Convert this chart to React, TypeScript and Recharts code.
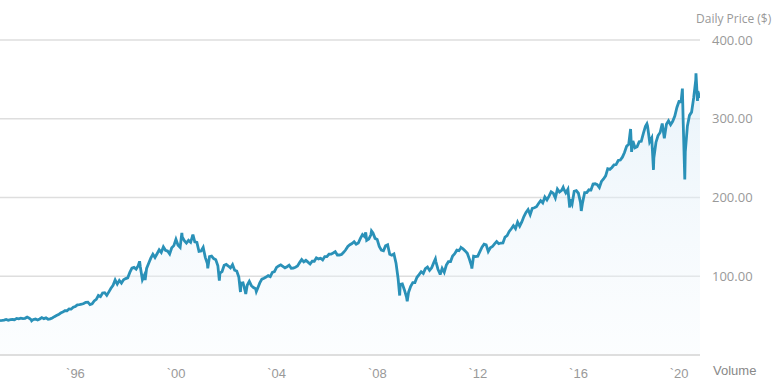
import { Area, AreaChart, CartesianGrid, XAxis, YAxis } from "recharts";

// month-end closes, Jan 1993 .. Oct 2020 (approx, $)
const START_YEAR = 1993;
const monthlyClose = [
  43.9, 44.3, 45.2, 44.1, 45.0, 45.1, 44.8, 46.5, 45.9, 46.8, 46.2, 46.6,
  48.2, 46.7, 44.6, 45.1, 45.7, 44.4, 45.8, 47.6, 46.2, 47.2, 45.4, 45.9,
  47.1, 48.7, 50.1, 51.4, 53.3, 54.5, 56.2, 56.2, 58.4, 58.2, 60.6, 61.6,
  63.6, 64.0, 64.5, 65.4, 66.9, 67.1, 64.0, 65.1, 68.7, 70.6, 75.7, 74.1,
  78.6, 79.1, 75.7, 80.2, 84.8, 88.5, 95.4, 90.0, 94.7, 91.4, 95.5, 97.0,
  98.0, 104.9, 110.2, 111.2, 109.1, 113.3, 112.0, 95.7, 101.7, 109.9, 116.4, 122.9,
  127.9, 123.8, 128.6, 133.5, 130.2, 137.3, 132.9, 132.0, 128.3, 136.2, 138.9, 146.9,
  139.4, 136.6, 149.9, 145.2, 142.1, 145.5, 143.1, 151.7, 143.6, 142.9, 131.5, 132.0,
  136.6, 124.0, 116.0, 124.9, 125.6, 122.4, 121.1, 113.4, 104.1, 106.0, 114.0, 115.0,
  113.0, 110.6, 114.7, 107.7, 106.7, 98.9, 91.1, 91.6, 81.5, 88.6, 93.6, 88.0,
  85.6, 84.1, 84.8, 91.6, 96.3, 97.4, 99.0, 100.8, 99.6, 105.0, 105.8, 111.2,
  113.1, 114.5, 112.6, 110.7, 112.1, 114.0, 110.2, 110.4, 111.5, 113.0, 117.3, 121.2,
  118.2, 120.3, 118.0, 115.6, 119.2, 119.1, 123.4, 122.0, 122.9, 120.7, 125.0, 125.0,
  128.0, 128.0, 129.5, 131.1, 127.0, 127.0, 127.7, 130.4, 133.6, 137.9, 140.1, 141.6,
  143.8, 140.7, 142.1, 148.1, 153.0, 150.3, 145.5, 147.3, 152.7, 154.9, 148.1, 146.8,
  137.9, 133.1, 132.3, 138.6, 140.0, 128.0, 126.7, 128.3, 116.6, 96.8, 89.6, 90.3,
  82.6, 73.5, 79.8, 87.3, 92.0, 92.0, 98.7, 102.1, 105.7, 103.6, 109.6, 111.6,
  107.4, 110.7, 117.3, 118.7, 108.9, 103.1, 110.1, 105.0, 114.1, 118.5, 118.6, 125.8,
  128.6, 133.1, 132.5, 136.2, 134.7, 132.2, 129.2, 121.8, 113.2, 125.5, 124.9, 125.5,
  131.3, 137.0, 140.8, 139.9, 131.5, 136.1, 137.7, 141.2, 144.0, 141.3, 142.2, 142.4,
  149.7, 151.6, 156.9, 160.3, 164.1, 160.4, 168.7, 163.6, 168.9, 175.8, 181.0, 184.7,
  178.2, 186.3, 187.0, 188.3, 192.4, 196.0, 193.1, 200.7, 197.0, 201.7, 207.2, 205.5,
  199.5, 210.7, 207.0, 209.0, 211.0, 205.9, 210.5, 197.7, 191.6, 207.9, 208.7, 205.4,
  193.7, 193.5, 206.3, 206.3, 209.8, 209.5, 217.1, 217.4, 216.3, 212.6, 220.4, 223.5,
  227.5, 236.5, 235.7, 238.1, 241.4, 241.8, 247.0, 247.5, 251.2, 257.2, 265.0, 267.5,
  281.9, 271.7, 263.2, 264.5, 270.9, 271.3, 281.3, 290.3, 290.7, 270.6, 275.7, 250.0,
  269.9, 278.7, 282.5, 294.0, 275.3, 293.0, 297.4, 292.5, 296.8, 303.3, 314.3, 321.9,
  321.7, 296.3, 257.8, 290.5, 304.3, 308.4, 326.5, 349.3, 334.9, 326.5,
];

// intra-month highs / lows that show up on the daily line (decimal year, $)
const extremes = [
  { t: 1993.0, v: 43.6 },
  { t: 1994.26, v: 43.5 },
  { t: 1998.55, v: 119.0 },
  { t: 1998.77, v: 95.0 },
  { t: 2000.23, v: 155.0 },
  { t: 2000.67, v: 153.0 },
  { t: 2001.26, v: 110.0 },
  { t: 2001.72, v: 94.5 },
  { t: 2002.56, v: 80.0 },
  { t: 2002.77, v: 77.5 },
  { t: 2003.19, v: 80.5 },
  { t: 2007.54, v: 155.6 },
  { t: 2007.77, v: 157.5 },
  { t: 2008.89, v: 75.5 },
  { t: 2009.19, v: 68.1 },
  { t: 2010.31, v: 122.0 },
  { t: 2010.5, v: 102.0 },
  { t: 2011.33, v: 136.4 },
  { t: 2011.76, v: 109.9 },
  { t: 2015.39, v: 213.0 },
  { t: 2015.65, v: 187.3 },
  { t: 2016.11, v: 182.9 },
  { t: 2018.07, v: 287.0 },
  { t: 2018.11, v: 258.0 },
  { t: 2018.72, v: 293.6 },
  { t: 2018.98, v: 235.0 },
  { t: 2020.13, v: 338.3 },
  { t: 2020.225, v: 222.9 },
  { t: 2020.67, v: 357.7 },
  { t: 2020.73, v: 322.6 },
  { t: 2020.83, v: 330.0 },
];

const yearTicks = [1996, 2000, 2004, 2008, 2012, 2016, 2020];
const priceTicks = [100, 200, 300, 400];

const data = [
  ...monthlyClose.map((v, i) => ({ t: START_YEAR + (i + 1) / 12 - 0.005, v })),
  ...extremes,
].sort((a, b) => a.t - b.t);

const GREY = "#999";

export default function App() {
  return (
    <div style={{ position: "absolute", left: 0, top: 0, width: 773, height: 383, background: "#fff" }}>
      <AreaChart width={773} height={383} data={data} margin={{ top: 40, right: 0, bottom: 0, left: 0 }}>
        <defs>
          <linearGradient id="priceFill" x1="0" y1="0" x2="0" y2="1">
            <stop offset="0%" stopColor="#d6e9f6" stopOpacity={0.9} />
            <stop offset="100%" stopColor="#f4f9fd" stopOpacity={0.5} />
          </linearGradient>
        </defs>
        <CartesianGrid horizontal vertical={false} stroke="#dedede" strokeWidth={1.5} />
        <XAxis
          dataKey="t"
          type="number"
          domain={[1993.0, 2020.83]}
          ticks={yearTicks}
          tickFormatter={(y) => "`" + String(y).slice(2)}
          axisLine={{ stroke: "#dedede", strokeWidth: 2 }}
          tickLine={false}
          tickMargin={8}
          height={28}
          tick={{ fill: GREY, fontSize: 13, fontFamily: "'Liberation Sans Narrow', sans-serif" }}
          allowDataOverflow
        />
        <YAxis
          orientation="right"
          domain={[0, 400]}
          ticks={priceTicks}
          tickFormatter={(v) => Number(v).toFixed(2)}
          axisLine={false}
          tickLine={false}
          tickMargin={6}
          width={73}
          tick={{ fill: GREY, fontSize: 13, fontFamily: "'Open Sans', sans-serif" }}
        />
        <Area
          type="linear"
          dataKey="v"
          stroke="#2a91b8"
          strokeWidth={2.8}
          fill="url(#priceFill)"
          isAnimationActive={false}
          dot={false}
          activeDot={false}
        />
      </AreaChart>
      <div
        style={{
          position: "absolute",
          left: 696,
          top: 10,
          fontSize: 12,
          color: GREY,
          fontFamily: "'Open Sans', sans-serif",
          whiteSpace: "nowrap",
        }}
      >
        Daily Price ($)
      </div>
      <div
        style={{
          position: "absolute",
          left: 713,
          top: 363,
          fontSize: 13,
          color: "#888",
          fontFamily: "'Liberation Sans Narrow', sans-serif",
        }}
      >
        Volume
      </div>
    </div>
  );
}
